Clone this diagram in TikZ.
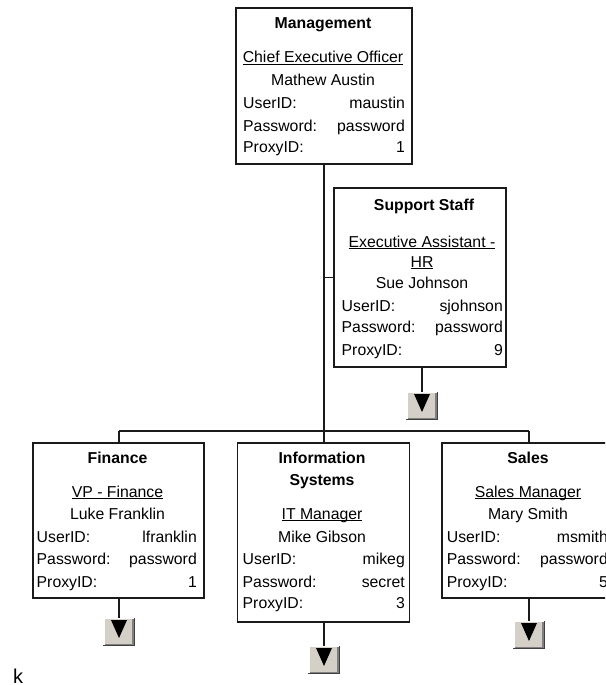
\documentclass[tikz,border=0pt]{standalone}
\usepackage{fontspec}
\setmainfont{Liberation Sans}
% underline drawn just below the baseline, crossing descenders
\newcommand\ulin[1]{\setbox0=\hbox{#1}\rlap{\vrule width\wd0 height -1.2pt depth 2.3pt}\box0}
\definecolor{btnface}{HTML}{D4D0C8}
\definecolor{btnshade}{HTML}{808080}
\definecolor{btndark}{HTML}{404040}
\definecolor{wirecol}{HTML}{1A1A1A}
% one "UserID:  value" style row: prefix, left x, right x, baseline, label, value
\newcommand\cardrow[6]{%
  \node[lab] (#1-l) at (#2,#4) {#5};
  \node[val] (#1-v) at (#3,#4) {#6};}
% expand button below a card
\newcommand\expbtn[3]{%
  \node[btn] (#1) at (#2,#3) {};
  \draw[white, line width=1.5pt] ([shift={(0.75,0)}]#1.south west) -- ([shift={(0.75,0.75)}]#1.north west) -- ([shift={(0,0.75)}]#1.north east);
  \draw[btnshade, line width=1.5pt] ([shift={(1.5,-1.75)}]#1.south west) -- ([shift={(-1.75,-1.75)}]#1.south east) -- ([shift={(-1.75,1.5)}]#1.north east);
  \draw[btndark, line width=1pt] ([shift={(0,-0.5)}]#1.south west) -- ([shift={(-0.5,-0.5)}]#1.south east) -- ([shift={(-0.5,0)}]#1.north east);
  \fill[black] ([shift={(-8,-12)}]#1.center) -- ([shift={(8,-12)}]#1.center)
     -- ([shift={(0,6)}]#1.center) -- cycle;}
\begin{document}
\begin{tikzpicture}[x=1pt,y=-1pt,
  card/.style={draw=wirecol, line width=1.1pt, fill=white, inner sep=0},
  wire/.style={draw=wirecol, line width=1.1pt},
  ttl/.style={inner sep=0, anchor=base, font=\bfseries\fontsize{15.8}{18}\selectfont},
  txt/.style={inner sep=0, anchor=base, font=\fontsize{15.8}{18}\selectfont},
  lab/.style={txt, anchor=base west},
  val/.style={txt, anchor=base east},
  btn/.style={fill=btnface, minimum width=31pt, minimum height=28pt, inner sep=0}]
\fill[white] (0,0) rectangle (605,685);
\useasboundingbox (0,0) rectangle (605,685);
\clip (0,0) rectangle (605,685);

% cards
\node[card, minimum width=176pt, minimum height=156pt] (mgmt) at (324,86) {};
\node[card, minimum width=172pt, minimum height=179pt] (supp) at (420,277.5) {};
\node[card, minimum width=171pt, minimum height=155pt] (fin) at (118.5,520.5) {};
\node[card, minimum width=172pt, minimum height=179pt] (infs) at (323.5,532.5) {};
\node[card, minimum width=172pt, minimum height=155pt] (sales) at (528,520.5) {};

% tree connectors
\coordinate (busL) at (119,431);
\coordinate (busM) at (324,431);
\coordinate (busR) at (529,431);
\coordinate (tap) at (324,277.5);
\draw[wire] (mgmt.south) -- (busM);
\draw[wire] (tap) -- (supp.west);
\draw[wire] (busL) -- (busR);
\draw[wire] (busL) -- (busL |- fin.north);
\draw[wire] (busM) -- (busM |- infs.north);
\draw[wire] (busR) -- (busR |- sales.north);

% Management
\node[ttl] (mgmt-t) at (323,29) {Management};
\node[txt] (mgmt-r) at (323,63) {\ulin{Chief Executive Officer}};
\node[txt] (mgmt-n) at (323,85) {Mathew Austin};
\cardrow{mgmt-u}{243}{405}{108}{UserID:}{maustin}
\cardrow{mgmt-p}{243}{405}{131}{Password:}{password}
\cardrow{mgmt-x}{243}{405}{152}{ProxyID:}{1}

% Support Staff
\node[ttl] (supp-t) at (424,210) {Support Staff};
\node[txt] (supp-r1) at (422,247) {\ulin{Executive Assistant -}};
\node[txt] (supp-r2) at (422,267) {\ulin{HR}};
\node[txt] (supp-n) at (422,288) {Sue Johnson};
\cardrow{supp-u}{341.5}{503}{311}{UserID:}{sjohnson}
\cardrow{supp-p}{341.5}{503}{332}{Password:}{password}
\cardrow{supp-x}{341.5}{503}{355}{ProxyID:}{9}

% Finance
\node[ttl] (fin-t) at (117.5,463) {Finance};
\node[txt] (fin-r) at (117.5,497) {\ulin{VP - Finance}};
\node[txt] (fin-n) at (117.5,519) {Luke Franklin};
\cardrow{fin-u}{36.5}{197}{542}{UserID:}{lfranklin}
\cardrow{fin-p}{36.5}{197}{564}{Password:}{password}
\cardrow{fin-x}{36.5}{197}{587}{ProxyID:}{1}

% Information Systems
\node[ttl] (infs-t1) at (322,463) {Information};
\node[ttl] (infs-t2) at (322,485) {Systems};
\node[txt] (infs-r) at (322,519) {\ulin{IT Manager}};
\node[txt] (infs-n) at (322,542) {Mike Gibson};
\cardrow{infs-u}{242.5}{405}{564}{UserID:}{mikeg}
\cardrow{infs-p}{242.5}{405}{587}{Password:}{secret}
\cardrow{infs-x}{242.5}{405}{608}{ProxyID:}{3}

% Sales
\node[ttl] (sales-t) at (528,463) {Sales};
\node[txt] (sales-r) at (528,497) {\ulin{Sales Manager}};
\node[txt] (sales-n) at (528,519) {Mary Smith};
\cardrow{sales-u}{446.7}{608}{542}{UserID:}{msmith}
\cardrow{sales-p}{446.7}{608}{564}{Password:}{password}
\cardrow{sales-x}{446.7}{608}{587}{ProxyID:}{5}

% expand buttons
\expbtn{supp-b}{422}{406}
\expbtn{fin-b}{119}{632}
\expbtn{infs-b}{324}{660}
\expbtn{sales-b}{529}{635}
\draw[wire] (supp.south -| supp-b) -- (supp-b.north);
\draw[wire] (fin.south -| fin-b) -- (fin-b.north);
\draw[wire] (infs.south -| infs-b) -- (infs-b.north);
\draw[wire] (sales.south -| sales-b) -- (sales-b.north);

\node[inner sep=0, anchor=base west, font=\fontsize{20}{24}\selectfont] (mark) at (13,683) {k};
\end{tikzpicture}
\end{document}
